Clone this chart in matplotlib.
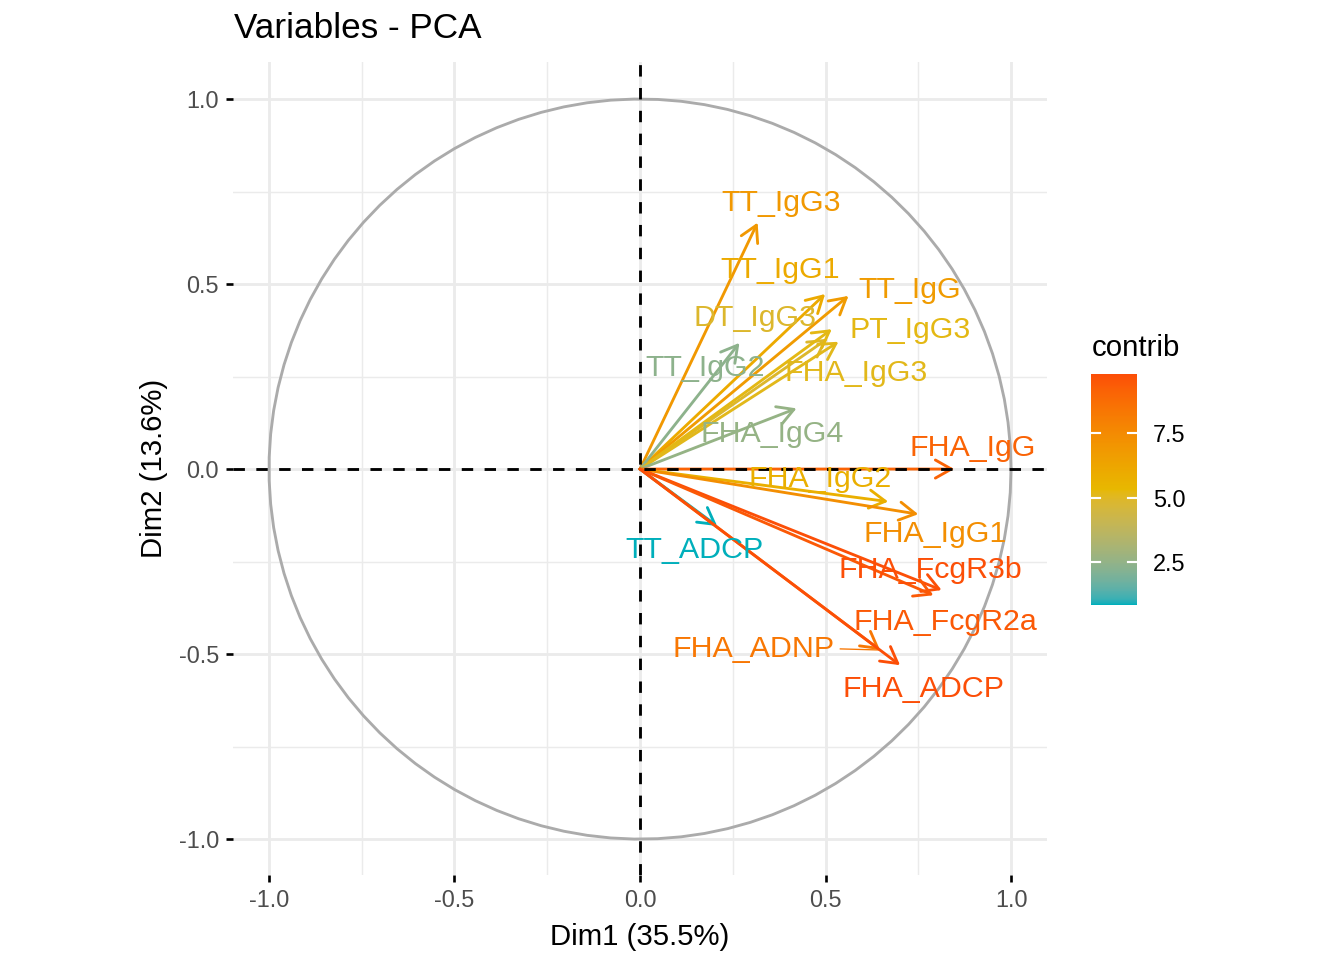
import numpy as np
import matplotlib
matplotlib.use("Agg")
import matplotlib.pyplot as plt
from matplotlib.colors import ListedColormap, Normalize, to_rgb
from matplotlib.patches import ArrowStyle

plt.rcParams['font.family'] = ['Liberation Sans', 'DejaVu Sans']

# variable coordinates on Dim1 / Dim2 and their contributions
variables = ['TT_IgG3', 'TT_IgG1', 'TT_IgG', 'DT_IgG3', 'PT_IgG3', 'TT_IgG2',
             'FHA_IgG3', 'FHA_IgG4', 'FHA_IgG', 'FHA_IgG2', 'FHA_IgG1', 'TT_ADCP',
             'FHA_FcgR3b', 'FHA_FcgR2a', 'FHA_ADNP', 'FHA_ADCP']
dim1 = [0.317, 0.499, 0.562, 0.505, 0.517, 0.268,
        0.535, 0.422, 0.847, 0.669, 0.750, 0.208,
        0.813, 0.791, 0.647, 0.701]
dim2 = [0.666, 0.473, 0.468, 0.352, 0.378, 0.341,
        0.344, 0.164, 0.000, -0.088, -0.122, -0.154,
        -0.327, -0.341, -0.489, -0.530]
contrib = [6.89, 5.99, 6.77, 4.87, 5.19, 2.38,
           5.11, 2.59, 9.08, 5.76, 7.30, 0.85,
           9.72, 9.39, 8.33, 9.77]

# repelled label positions (layout)
label_pos = {
    'TT_IgG3': (0.380, 0.719), 'TT_IgG1': (0.377, 0.538), 'TT_IgG': (0.728, 0.484),
    'DT_IgG3': (0.310, 0.408), 'PT_IgG3': (0.728, 0.376), 'TT_IgG2': (0.175, 0.273),
    'FHA_IgG3': (0.582, 0.259), 'FHA_IgG4': (0.356, 0.095), 'FHA_IgG': (0.898, 0.057),
    'FHA_IgG2': (0.485, -0.027), 'FHA_IgG1': (0.795, -0.176), 'TT_ADCP': (0.146, -0.219),
    'FHA_FcgR3b': (0.782, -0.273), 'FHA_FcgR2a': (0.822, -0.414),
    'FHA_ADNP': (0.305, -0.486), 'FHA_ADCP': (0.765, -0.595),
}
gradient = ['#00AFBB', '#E7B800', '#FC4E07']


# gradient interpolated in Lab space, like ggplot
def srgb_to_lab(rgb):
    c = np.array(rgb)
    c = np.where(c > 0.04045, ((c + 0.055) / 1.055) ** 2.4, c / 12.92)
    m = np.array([[0.4124, 0.3576, 0.1805], [0.2126, 0.7152, 0.0722], [0.0193, 0.1192, 0.9505]])
    xyz = m @ c / np.array([0.95047, 1.0, 1.08883])
    f = np.where(xyz > 0.008856, np.cbrt(xyz), 7.787 * xyz + 16 / 116)
    return np.array([116 * f[1] - 16, 500 * (f[0] - f[1]), 200 * (f[1] - f[2])])


def lab_to_srgb(lab):
    L, a, b = lab
    fy = (L + 16) / 116
    f = np.array([fy + a / 500, fy, fy - b / 200])
    xyz = np.where(f ** 3 > 0.008856, f ** 3, (f - 16 / 116) / 7.787) * np.array([0.95047, 1.0, 1.08883])
    mi = np.array([[3.2406, -1.5372, -0.4986], [-0.9689, 1.8758, 0.0415], [0.0557, -0.2040, 1.0570]])
    c = mi @ xyz
    c = np.where(c > 0.0031308, 1.055 * np.clip(c, 0, None) ** (1 / 2.4) - 0.055, 12.92 * c)
    return np.clip(c, 0, 1)


labs = [srgb_to_lab(to_rgb(g)) for g in gradient]
cols = []
for u in np.linspace(0, 1, 256):
    seg = min(int(u * 2), 1)
    w = u * 2 - seg
    cols.append(lab_to_srgb(labs[seg] * (1 - w) + labs[seg + 1] * w))
cmap = ListedColormap(cols)
norm = Normalize(vmin=min(contrib), vmax=max(contrib))

W, H = 1344, 960
fig = plt.figure(figsize=(7, 5), dpi=192)
ax = fig.add_axes([233 / W, 1 - 875 / H, (1047 - 233) / W, (875 - 62) / H])
ax.set_xlim(-1.097, 1.097)
ax.set_ylim(-1.097, 1.1)

for s in ax.spines.values():
    s.set_visible(False)
ax.set_xticks([-1.0, -0.5, 0.0, 0.5, 1.0])
ax.set_yticks([-1.0, -0.5, 0.0, 0.5, 1.0])
ax.set_xticks([-0.75, -0.25, 0.25, 0.75], minor=True)
ax.set_yticks([-0.75, -0.25, 0.25, 0.75], minor=True)
ax.set_xticklabels(['-1.0', '-0.5', '0.0', '0.5', '1.0'])
ax.set_yticklabels(['-1.0', '-0.5', '0.0', '0.5', '1.0'])
ax.tick_params(which='major', length=2.75, width=1.0, color='black',
               labelsize=8.8, labelcolor='#4D4D4D', pad=2.5)
ax.tick_params(which='minor', length=0)
ax.grid(which='major', color='#EBEBEB', lw=1.07)
ax.grid(which='minor', color='#EBEBEB', lw=0.53)
ax.set_axisbelow(True)

# correlation circle
t = np.linspace(0, 2 * np.pi, 100)
ax.plot(np.cos(t), np.sin(t), color='#ABABAB', lw=1.07, zorder=2)

style = ArrowStyle('->', head_length=0.6, head_width=0.34)
for name, x, y, c in zip(variables, dim1, dim2, contrib):
    col = cmap(norm(c))
    ax.annotate('', xy=(x, y), xytext=(0, 0),
                arrowprops=dict(arrowstyle=style, color=col, lw=1.07,
                                shrinkA=0, shrinkB=0, mutation_scale=10), zorder=3)
    lx, ly = label_pos[name]
    ax.text(lx, ly, name, color=col, fontsize=11.4, ha='center', va='center', zorder=5)
    if name == 'FHA_ADNP':
        ax.plot([lx + 0.235, x], [ly, y], color=col, lw=0.5, zorder=3)

# dashed zero lines drawn over the arrows
ax.axhline(0, color='black', lw=1.07, ls=(0, (4, 4)), zorder=4)
ax.axvline(0, color='black', lw=1.07, ls=(0, (4, 4)), zorder=4)

ax.set_xlabel('Dim1 (35.5%)', fontsize=11, labelpad=4)
ax.set_ylabel('Dim2 (13.6%)', fontsize=11, labelpad=4)
fig.text(234 / W, 1 - 28 / H, 'Variables - PCA', fontsize=13.2, ha='left', va='center')

# colour bar legend
cax = fig.add_axes([1091 / W, 1 - 605 / H, 46 / W, 231 / H])
cb = fig.colorbar(plt.cm.ScalarMappable(norm=norm, cmap=cmap), cax=cax)
cb.outline.set_visible(False)
cb.set_ticks([2.5, 5.0, 7.5])
cb.set_ticklabels(['2.5', '5.0', '7.5'])
cax.tick_params(length=0, labelsize=8.8, labelcolor='black', pad=6)
for v in [2.5, 5.0, 7.5]:
    cax.plot([0, 0.2], [v, v], color='white', lw=0.8, transform=cax.get_yaxis_transform())
    cax.plot([0.8, 1.0], [v, v], color='white', lw=0.8, transform=cax.get_yaxis_transform())
fig.text(1092 / W, 1 - 348 / H, 'contrib', fontsize=11, ha='left', va='center')

fig.savefig('out.png', dpi=192)
